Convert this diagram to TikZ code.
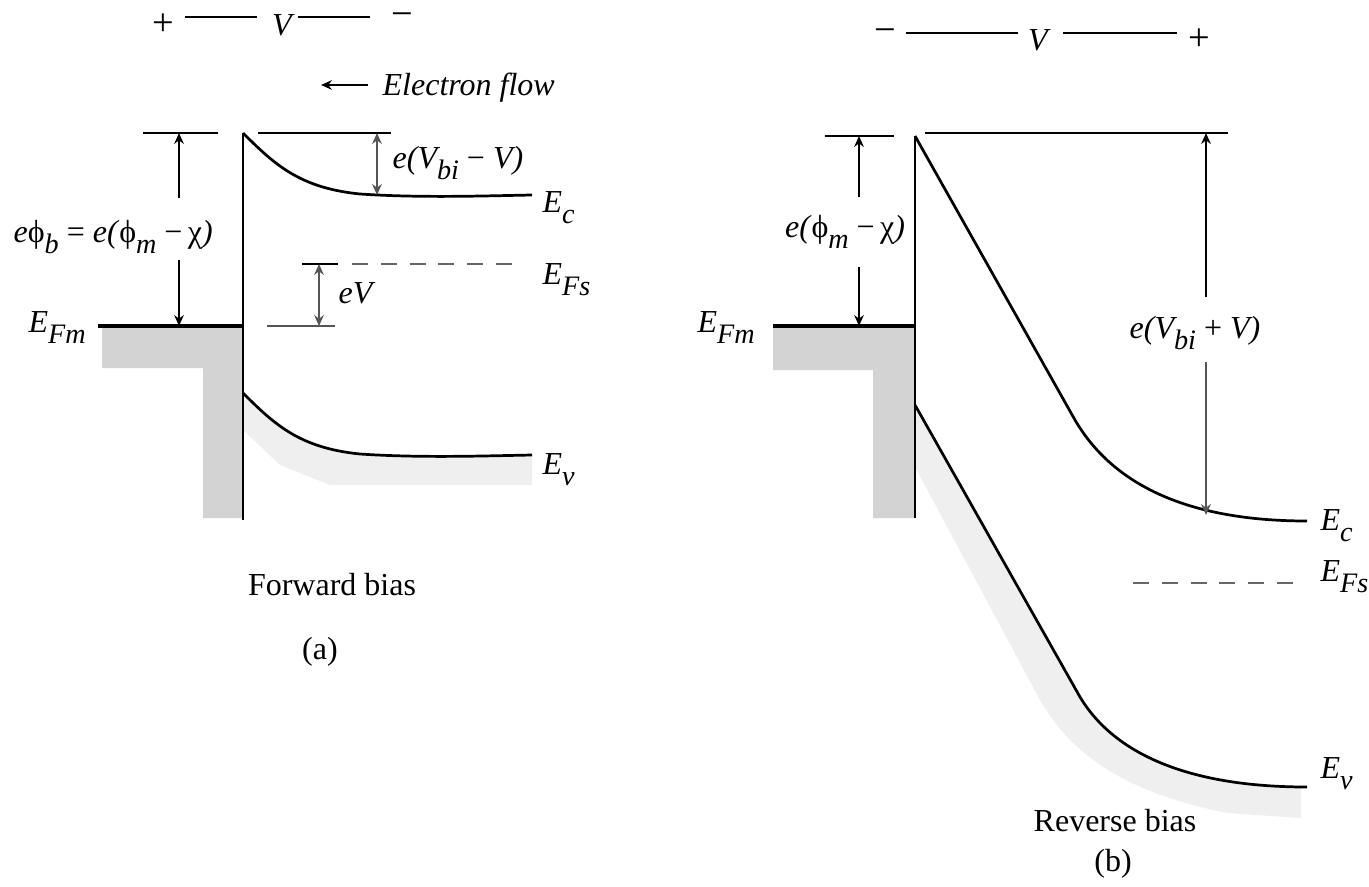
\documentclass[tikz,border=0pt]{standalone}
\usepackage{fontspec}
\setmainfont{Liberation Serif}
\usepackage{tikz}
\usetikzlibrary{arrows.meta}
\definecolor{metal}{HTML}{D3D3D3}
\definecolor{valence}{HTML}{EFEFEF}
\definecolor{dimgrey}{HTML}{555555}
\newcommand{\lo}[1]{\raisebox{-3.6pt}{\fontsize{8.8}{10}\selectfont #1}}

\begin{document}
\begin{tikzpicture}[x=0.3125pt, y=-0.3125pt, font=\fontsize{10}{12}\selectfont,
  band/.style={line width=0.85pt},
  wall/.style={line width=0.9pt},
  fermi/.style={line width=0.95pt},
  ref/.style={line width=0.5pt},
  wire/.style={line width=0.9pt},
  dashfs/.style={line width=0.55pt, black!60, dash pattern=on 5pt off 4pt},
  tip/.style={-{Stealth[length=3.4pt, width=3pt]}, line width=0.5pt},
  tips/.style={{Stealth[length=3.4pt, width=3pt]}-{Stealth[length=3.4pt, width=3pt]}, line width=0.5pt, dimgrey},
  lbl/.style={inner sep=0pt, font=\fontsize{10}{12}\selectfont\itshape},
  sign/.style={inner sep=0pt, font=\fontsize{12}{14}\selectfont},
  txt/.style={inner sep=0pt}]
\useasboundingbox (0,0) rectangle (1369,886);

% ---------- (a) forward bias ----------
\fill[metal] (102,326) -- (243,326) -- (243,518) -- (203,518) -- (203,368) -- (102,368) -- cycle;
\fill[valence] (243,393) .. controls (275,425) and (300,448) .. (360,454)
  .. controls (420,458) and (480,456) .. (532,455) -- (532,485) -- (330,485) -- (280,465) -- (243,430) -- cycle;
\draw[band] (243,133) .. controls (275,165) and (300,188) .. (360,194)
  .. controls (420,198) and (480,196) .. (532,195);
\draw[band] (243,393) .. controls (275,425) and (300,448) .. (360,454)
  .. controls (420,458) and (480,456) .. (532,455);
\draw[wall] (243,133) -- (243,520);
\draw[fermi] (98,326) -- (243,326);
\draw[ref] (143,133) -- (218,133);
\draw[ref] (258,133) -- (391,133);
\draw[ref] (302,264) -- (338,264);
\draw[dashfs] (352,264) -- (520,264);
\draw[ref, dimgrey] (267,326) -- (335,326);

% battery
\node[sign] (plusA) at (163,25) {+};
\node[lbl] (VA) at (282,25) {V};
\node[sign] (minusA) at (402,20) {−};
\coordinate (wA1) at (185,17); \coordinate (wA2) at (257,17);
\coordinate (wA3) at (298,17); \coordinate (wA4) at (370,17);
\draw[wire] (wA1) -- (wA2);
\draw[wire] (wA3) -- (wA4);

\node[lbl, anchor=base west] (flow) at (382,96) {Electron flow};
\coordinate (flowT) at (368,85); \coordinate (flowH) at (321,85);
\draw[tip] (flowT) -- (flowH);

% barrier height
\node[lbl, anchor=base west] (phibA) at (13,242)
  {e\textup{ϕ}\lo{b} \textup{=} e(\textup{ϕ}\lo{m} \textup{−}\,\textup{χ})};
\coordinate (pA1) at (179,198); \coordinate (pA2) at (179,133);
\coordinate (pA3) at (179,260); \coordinate (pA4) at (179,326);
\draw[tip] (pA1) -- (pA2);
\draw[tip] (pA3) -- (pA4);

% built-in minus bias
\coordinate (dA1) at (377,133); \coordinate (dA2) at (377,195);
\draw[tips] (dA1) -- (dA2);
\node[lbl, anchor=base west] (dVA) at (392,168) {e(V\lo{bi} \textup{−} V)};

\coordinate (eV1) at (319,264); \coordinate (eV2) at (319,326);
\draw[tips] (eV1) -- (eV2);
\node[lbl, anchor=base west] (eVA) at (338,303) {eV};

\node[lbl, anchor=base west] (EcA) at (542,212) {E\lo{c}};
\node[lbl, anchor=base west] (EFsA) at (542,284) {E\lo{Fs}};
\node[lbl, anchor=base west] (EvA) at (542,474) {E\lo{v}};
\node[lbl, anchor=base west] (EFmA) at (28,332) {E\lo{Fm}};

\node[txt] (biasA) at (332,585) {Forward bias};
\node[txt] (capA) at (320,652) {(a)};

% ---------- (b) reverse bias ----------
\fill[metal] (773,326) -- (915,326) -- (915,518) -- (873,518) -- (873,370) -- (773,370) -- cycle;
\fill[valence] (915,405) -- (1080,697) .. controls (1113,752) and (1185,787) .. (1301,787)
  -- (1301,818) -- (1227,813) .. controls (1150,797) and (1080,770) .. (1040,700) -- (915,467) -- cycle;
\draw[band] (915,136) -- (1075,420) .. controls (1110,480) and (1180,521) .. (1307,521);
\draw[band] (915,405) -- (1080,697) .. controls (1113,752) and (1185,787) .. (1307,787);
\draw[wall] (915,136) -- (915,518);
\draw[fermi] (773,326) -- (915,326);
\draw[ref] (825,136) -- (894,136);
\draw[ref] (925,133) -- (1228,133);
\draw[dashfs] (1133,583) -- (1303,583);

% battery
\node[sign] (minusB) at (885,36) {−};
\node[lbl] (VB) at (1038,40) {V};
\node[sign] (plusB) at (1199,40) {+};
\coordinate (wB1) at (906,33); \coordinate (wB2) at (1018,33);
\coordinate (wB3) at (1063,33); \coordinate (wB4) at (1177,33);
\draw[wire] (wB1) -- (wB2);
\draw[wire] (wB3) -- (wB4);

% barrier height
\node[lbl, anchor=base] (phiB) at (845,237)
  {e(\textup{ϕ}\lo{m} \textup{−}\,\textup{χ})};
\coordinate (pB1) at (859,197); \coordinate (pB2) at (859,136);
\coordinate (pB3) at (859,267); \coordinate (pB4) at (859,326);
\draw[tip] (pB1) -- (pB2);
\draw[tip] (pB3) -- (pB4);

% built-in plus bias
\node[lbl, anchor=base] (dVB) at (1195,338) {e(V\lo{bi} \textup{+} V)};
\coordinate (dB1) at (1206,297); \coordinate (dB2) at (1206,133);
\coordinate (dB3) at (1206,362); \coordinate (dB4) at (1206,515);
\draw[tip] (dB1) -- (dB2);
\draw[tip, dimgrey] (dB3) -- (dB4);

\node[lbl, anchor=base west] (EcB) at (1320,530) {E\lo{c}};
\node[lbl, anchor=base west] (EFsB) at (1320,581) {E\lo{Fs}};
\node[lbl, anchor=base west] (EvB) at (1320,778) {E\lo{v}};
\node[lbl, anchor=base west] (EFmB) at (697,332) {E\lo{Fm}};

\node[txt] (biasB) at (1115,821) {Reverse bias};
\node[txt] (capB) at (1113,864) {(b)};
\end{tikzpicture}
\end{document}
